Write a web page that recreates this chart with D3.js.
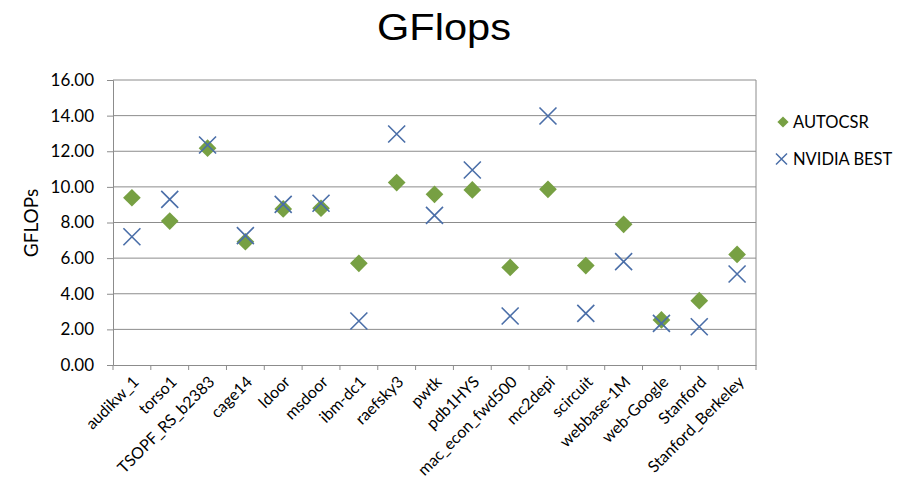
<!DOCTYPE html>
<html lang="en">
<head>
  <meta charset="UTF-8">
  <title>GFlops</title>
  <script src="https://d3js.org/d3.v7.min.js"></script>
  <style>
    body { margin: 0; background: #fff; }
    svg { display: block; }
    text { font-family: Lato, "Open Sans", sans-serif; fill: #000; }
  </style>
</head>
<body>
<svg width="908" height="485"></svg>
<script>
const matrices = ['audikw_1', 'torso1', 'TSOPF_RS_b2383', 'cage14', 'ldoor', 'msdoor', 'ibm-dc1',
  'raefsky3', 'pwtk', 'pdb1HYS', 'mac_econ_fwd500', 'mc2depi', 'scircuit', 'webbase-1M',
  'web-Google', 'Stanford', 'Stanford_Berkeley'];
const autocsr = [9.39, 8.08, 12.17, 6.92, 8.76, 8.80, 5.71, 10.24, 9.58, 9.83, 5.48, 9.86, 5.58, 7.90, 2.53, 3.61, 6.21];
const nvidiaBest = [7.20, 9.30, 12.35, 7.26, 9.02, 9.08, 2.47, 12.97, 8.40, 10.95, 2.75, 13.98, 2.90, 5.80, 2.34, 2.15, 5.11];
const yTicks = [0, 2, 4, 6, 8, 10, 12, 14, 16];

const svg = d3.select('svg');
const plot = { left: 113, right: 756, top: 80, bottom: 365 };

const x = d3.scaleBand().domain(matrices).range([plot.left, plot.right]);
const y = d3.scaleLinear().domain([0, 16]).range([plot.bottom, plot.top]);
const cx = d => x(d) + x.bandwidth() / 2;

// title
svg.append('text')
  .attr('x', 377).attr('y', 40)
  .attr('textLength', 134)
  .attr('lengthAdjust', 'spacingAndGlyphs')
  .style('font-family', '"Liberation Sans", Arial, sans-serif')
  .style('font-size', '36px')
  .text('GFlops');

// gridlines
svg.append('g')
  .selectAll('line')
  .data(yTicks.slice(1))
  .join('line')
  .attr('x1', plot.left).attr('x2', plot.right)
  .attr('y1', d => y(d)).attr('y2', d => y(d))
  .attr('stroke', '#8c8c8c').attr('stroke-width', 1);

// right border
svg.append('line')
  .attr('x1', plot.right).attr('x2', plot.right).attr('y1', plot.top).attr('y2', plot.bottom)
  .attr('stroke', '#8c8c8c');

// y axis
const yAxis = svg.append('g')
  .attr('transform', `translate(${plot.left},0)`)
  .call(d3.axisLeft(y).tickValues(yTicks).tickFormat(d3.format('.2f')).tickSize(6).tickPadding(13));
yAxis.select('.domain').attr('stroke', '#8c8c8c');
yAxis.selectAll('.tick line').attr('stroke', '#8c8c8c');
yAxis.selectAll('.tick text').style('font-size', '17px').style('font-family', 'Lato, sans-serif').attr('fill', '#000');

// x axis
const xAxis = svg.append('g')
  .attr('transform', `translate(0,${plot.bottom})`)
  .call(d3.axisBottom(x).tickSize(0).tickFormat(''));
xAxis.select('.domain').attr('stroke', '#8c8c8c');
const bounds = matrices.map(m => x(m)).concat([plot.right]);
svg.append('g').selectAll('line')
  .data(bounds)
  .join('line')
  .attr('x1', d => d).attr('x2', d => d)
  .attr('y1', plot.bottom).attr('y2', plot.bottom + 5)
  .attr('stroke', '#8c8c8c');

svg.append('g').selectAll('text')
  .data(matrices)
  .join('text')
  .attr('transform', d => `translate(${cx(d) + 4},${plot.bottom + 14}) rotate(-45)`)
  .attr('text-anchor', 'end')
  .attr('dy', '0.35em')
  .style('font-size', '16px')
  .text(d => d);

// y label
svg.append('text')
  .attr('transform', 'translate(38,223) rotate(-90)')
  .attr('text-anchor', 'middle')
  .style('font-size', '19px')
  .text('GFLOPs');

const green = '#77a043', blue = '#4a6ea8';
const diamond = d3.symbol().type(d3.symbolDiamond2).size(200);
const xs = 8.5;
const cross = `M${-xs},${-xs}L${xs},${xs}M${-xs},${xs}L${xs},${-xs}`;

// AUTOCSR diamonds
svg.append('g').selectAll('path')
  .data(matrices)
  .join('path')
  .attr('transform', (d, i) => `translate(${cx(d)},${y(autocsr[i])})`)
  .attr('d', diamond)
  .attr('fill', green);

// NVIDIA BEST crosses, drawn on top
svg.append('g').selectAll('path')
  .data(matrices)
  .join('path')
  .attr('transform', (d, i) => `translate(${cx(d)},${y(nvidiaBest[i])})`)
  .attr('d', cross)
  .attr('stroke', blue).attr('stroke-width', 1.6).attr('fill', 'none');

// legend
const lg = svg.append('g');
lg.append('path')
  .attr('transform', 'translate(783,122)')
  .attr('d', d3.symbol().type(d3.symbolDiamond2).size(80))
  .attr('fill', green);
lg.append('text').attr('x', 793).attr('y', 128)
  .style('font-size', '16.5px').text('AUTOCSR');
lg.append('path')
  .attr('transform', 'translate(781.5,159)')
  .attr('d', 'M-5.5,-5.5L5.5,5.5M-5.5,5.5L5.5,-5.5')
  .attr('stroke', blue).attr('stroke-width', 1.5).attr('fill', 'none');
lg.append('text').attr('x', 793).attr('y', 165)
  .style('font-size', '16.5px').text('NVIDIA BEST');
</script>
</body>
</html>
